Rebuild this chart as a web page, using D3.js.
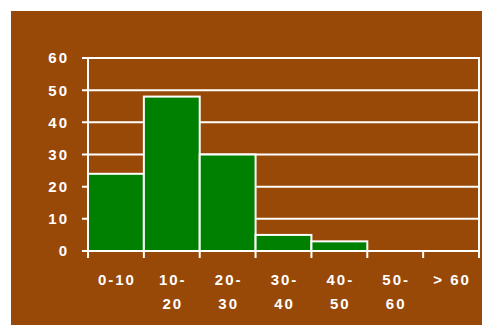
<!DOCTYPE html>
<html><head><meta charset="utf-8">
<script src="https://cdn.jsdelivr.net/npm/d3@7"></script>
<style>body{margin:0;background:#fff;}svg{display:block;}</style>
</head><body>
<svg id="c" width="482" height="325"></svg>
<script>
const categories = ["0-10","10-20","20-30","30-40","40-50","50-60","> 60"];
const categoryLines = [["0-10"],["10-","20"],["20-","30"],["30-","40"],["40-","50"],["50-","60"],["> 60"]];
const counts = [24,48,30,5,3,0,0];
const yTicks = [0,10,20,30,40,50,60];

const svg = d3.select("#c");
const bg = "#994907", fg = "#ffffff", barColor = "#008000";
svg.append("rect").attr("x",11).attr("y",11).attr("width",471).attr("height",314).attr("fill",bg);

const x = d3.scaleBand().domain(categories).range([88,479]).padding(0);
const y = d3.scaleLinear().domain([0,60]).range([251,58]);

const font = "Arial, 'Liberation Sans', sans-serif";

// gridlines + left ticks
svg.append("g").selectAll("line").data(yTicks).join("line")
  .attr("x1",82).attr("x2",479)
  .attr("y1",d=>y(d)).attr("y2",d=>y(d))
  .attr("stroke",fg).attr("stroke-width",2);

// bars
svg.append("g").selectAll("rect").data(counts.map((v,i)=>({c:categories[i],v})).filter(d=>d.v>0)).join("rect")
  .attr("x",d=>x(d.c)).attr("width",x.bandwidth())
  .attr("y",d=>y(d.v)).attr("height",d=>y(0)-y(d.v))
  .attr("fill",barColor).attr("stroke",fg).attr("stroke-width",2);

// axes lines
svg.append("line").attr("x1",88).attr("x2",88).attr("y1",y(60)).attr("y2",258).attr("stroke",fg).attr("stroke-width",2);
svg.append("line").attr("x1",479).attr("x2",479).attr("y1",y(60)-1).attr("y2",258).attr("stroke",fg).attr("stroke-width",2);
svg.append("line").attr("x1",82).attr("x2",480).attr("y1",y(0)).attr("y2",y(0)).attr("stroke",fg).attr("stroke-width",2);

// x ticks at band boundaries
const bounds = categories.map(c=>x(c)).concat([x.range()[1]]);
svg.append("g").selectAll("line").data(bounds).join("line")
  .attr("x1",d=>d).attr("x2",d=>d).attr("y1",y(0)).attr("y2",258)
  .attr("stroke",fg).attr("stroke-width",2);

// y labels
svg.append("g").selectAll("text").data(yTicks).join("text")
  .attr("x",69).attr("y",d=>y(d)).attr("dy","0.36em")
  .attr("text-anchor","end").attr("fill",fg)
  .style("font-family",font).style("font-weight","bold").style("font-size","15px").style("letter-spacing","2px")
  .text(d=>d);

// x labels
const xl = svg.append("g").selectAll("text").data(categories).join("text")
  .attr("x",(d)=>x(d)+x.bandwidth()/2+1).attr("y",285)
  .attr("text-anchor","middle").attr("fill",fg)
  .style("font-family",font).style("font-weight","bold").style("font-size","15px").style("letter-spacing","2px");
xl.each(function(d,i){
  d3.select(this).selectAll("tspan").data(categoryLines[i]).join("tspan")
    .attr("x",x(d)+x.bandwidth()/2+1).attr("dy",(t,j)=>j===0?0:24).text(t=>t);
});
</script>
</body></html>
